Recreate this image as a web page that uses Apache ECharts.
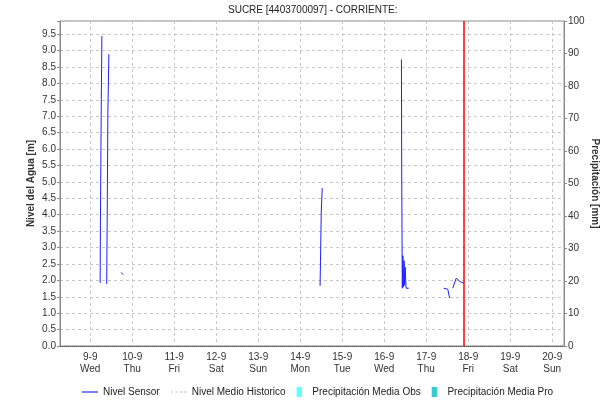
<!DOCTYPE html>
<html>
<head>
<meta charset="utf-8">
<script src="https://cdn.jsdelivr.net/npm/echarts@6/dist/echarts.min.js"></script>
<style>
  html, body { margin: 0; padding: 0; background: #fff; }
  #chart { width: 613px; height: 402px; }
</style>
</head>
<body>
<div id="chart"></div>
<script>
// Nivel Sensor readings (null = gap in the record)
var sensorTimes = [
  '2015-09-09 05:40', '2015-09-09 05:50', '2015-09-09 06:20', '2015-09-09 06:40', '2015-09-09 07:00',
  '2015-09-09 09:25', '2015-09-09 09:40', '2015-09-09 10:05', '2015-09-09 10:40', '2015-09-09 11:00',
  '2015-09-09 17:40', '2015-09-09 18:50', '2015-09-09 19:00',
  '2015-09-14 11:20', '2015-09-14 11:35', '2015-09-14 12:00', '2015-09-14 12:35', '2015-09-14 13:00',
  '2015-09-16 09:50', '2015-09-16 10:00', '2015-09-16 10:20', '2015-09-16 10:40', '2015-09-16 11:00',
  '2015-09-16 11:20', '2015-09-16 11:40', '2015-09-16 12:00', '2015-09-16 12:30', '2015-09-16 14:00', '2015-09-16 14:20',
  '2015-09-17 10:00', '2015-09-17 12:20', '2015-09-17 13:20', '2015-09-17 14:00',
  '2015-09-17 15:10', '2015-09-17 17:10', '2015-09-17 17:30', '2015-09-17 18:40', '2015-09-17 20:00', '2015-09-17 20:55', '2015-09-17 21:28'
];
var sensorValues = [
  1.92, 3.79, 7.51, 9.44, null,
  1.89, 3.64, 7.10, 8.89, null,
  2.24, 2.17, null,
  1.83, 2.57, 4.05, 4.81, null,
  8.73, 5.24, 1.76, 2.75, 1.80,
  2.60, 1.85, 2.40, 1.76, 1.76, null,
  1.76, 1.73, 1.46, null,
  1.76, 2.07, 2.02, 1.99, 1.94, 1.96, 1.92
];
var historicoValues = [];
var precipObsValues = [];
var precipProValues = [];

var nowMark = '2015-09-17 21:28';
var xMin = '2015-09-08 06:44';
var xMax = '2015-09-20 06:44';
var weekDays = ['Sun', 'Mon', 'Tue', 'Wed', 'Thu', 'Fri', 'Sat'];

function ts(s) {
  return new Date(s.replace(' ', 'T')).getTime();
}

var chart = echarts.init(document.getElementById('chart'));

var sensorData = sensorTimes.map(function (t, i) { return [ts(t), sensorValues[i]]; });
var font = 'Liberation Sans, Arial, sans-serif';
var grid = { type: [3, 3], color: '#c8c8c8', width: 1 };

var option = {
  animation: false,
  textStyle: { fontFamily: font },
  title: {
    text: 'SUCRE [4403700097] - CORRIENTE:',
    left: 223,
    top: 0,
    textStyle: { fontSize: 10, fontWeight: 'normal', color: '#222', fontFamily: font }
  },
  legend: {
    bottom: 0,
    left: 77,
    itemWidth: 16,
    itemHeight: 10,
    itemGap: 11,
    textStyle: { fontSize: 10, color: '#222', fontFamily: font },
    data: [
      { name: 'Nivel Sensor', icon: 'path://M0,0H18V1.3H0Z', itemStyle: { color: '#1f1fff' } },
      { name: 'Nivel Medio Historico', icon: 'path://M0,0H3V1.3H0Z M6,0H9V1.3H6Z M12,0H15V1.3H12Z M18,0H21V1.3H18Z', itemStyle: { color: '#bbbbbb' } },
      { name: 'Precipitación Media Obs', icon: 'path://M0,0H6V11H0Z', itemStyle: { color: '#66ffff' } },
      { name: 'Precipitación Media Pro', icon: 'path://M0,0H6V11H0Z', itemStyle: { color: '#33cccc' } }
    ]
  },
  grid: {
    left: 60, right: 49, top: 21, bottom: 56,
    show: true, borderColor: '#8c8c8c', borderWidth: 1
  },
  xAxis: [
    {
      type: 'time',
      min: ts(xMin),
      max: ts(xMax),
      minInterval: 86400000,
      maxInterval: 86400000,
      axisLine: { show: true, lineStyle: { color: '#555', type: 'dotted' } },
      axisTick: { show: false },
      splitLine: { show: true, lineStyle: grid },
      axisLabel: {
        fontSize: 10,
        color: '#333',
        margin: 5,
        lineHeight: 12,
        showMinLabel: false,
        showMaxLabel: false,
        formatter: function (v) {
          var d = new Date(v);
          return d.getDate() + '-' + (d.getMonth() + 1) + '\n' + weekDays[d.getDay()];
        }
      }
    },
    {
      // hidden companion axis for the (empty) precipitation bars
      type: 'time',
      show: false,
      min: ts(xMin),
      max: ts(xMax)
    }
  ],
  yAxis: [
    {
      type: 'value',
      min: 0,
      max: 9.9,
      interval: 0.5,
      name: 'Nivel del Agua [m]',
      nameLocation: 'middle',
      nameGap: 24,
      nameMoveOverlap: false,
      nameTextStyle: { fontSize: 10, fontWeight: 'bold', color: '#333' },
      axisLine: { show: true, lineStyle: { color: '#8c8c8c' } },
      axisTick: { show: true, length: 3, lineStyle: { color: '#8c8c8c' } },
      splitLine: { show: true, lineStyle: grid },
      axisLabel: {
        fontSize: 10, color: '#333', margin: 4,
        formatter: function (v) { return v > 9.6 ? '' : v.toFixed(1); }
      }
    },
    {
      type: 'value',
      min: 0,
      max: 100,
      interval: 10,
      name: 'Precipitación [mm]',
      nameLocation: 'middle',
      nameRotate: -90,
      nameGap: 26,
      nameMoveOverlap: false,
      nameTextStyle: { fontSize: 10, fontWeight: 'bold', color: '#333' },
      axisLine: { show: true, lineStyle: { color: '#8c8c8c' } },
      axisTick: { show: true, length: 3, lineStyle: { color: '#8c8c8c' } },
      splitLine: { show: false },
      axisLabel: { fontSize: 10, color: '#333', margin: 4 }
    }
  ],
  series: [
    {
      name: 'Nivel Sensor',
      type: 'line',
      data: sensorData,
      symbol: 'none',
      connectNulls: false,
      color: '#1f1fff',
      lineStyle: { width: 1, color: '#1f1fff' },
      markLine: {
        silent: true,
        symbol: 'none',
        label: { show: false },
        lineStyle: { color: '#ff0000', type: 'solid', width: 1.5 },
        data: [{ xAxis: ts(nowMark) }]
      }
    },
    {
      name: 'Nivel Medio Historico',
      type: 'line',
      data: historicoValues,
      symbol: 'none',
      color: '#bbbbbb',
      lineStyle: { width: 1, type: [3, 3], color: '#bbbbbb' }
    },
    {
      name: 'Precipitación Media Obs',
      type: 'bar',
      xAxisIndex: 1,
      yAxisIndex: 1,
      data: precipObsValues,
      color: '#66ffff'
    },
    {
      name: 'Precipitación Media Pro',
      type: 'bar',
      xAxisIndex: 1,
      yAxisIndex: 1,
      data: precipProValues,
      color: '#33cccc'
    }
  ]
};

chart.setOption(option);
</script>
</body>
</html>
